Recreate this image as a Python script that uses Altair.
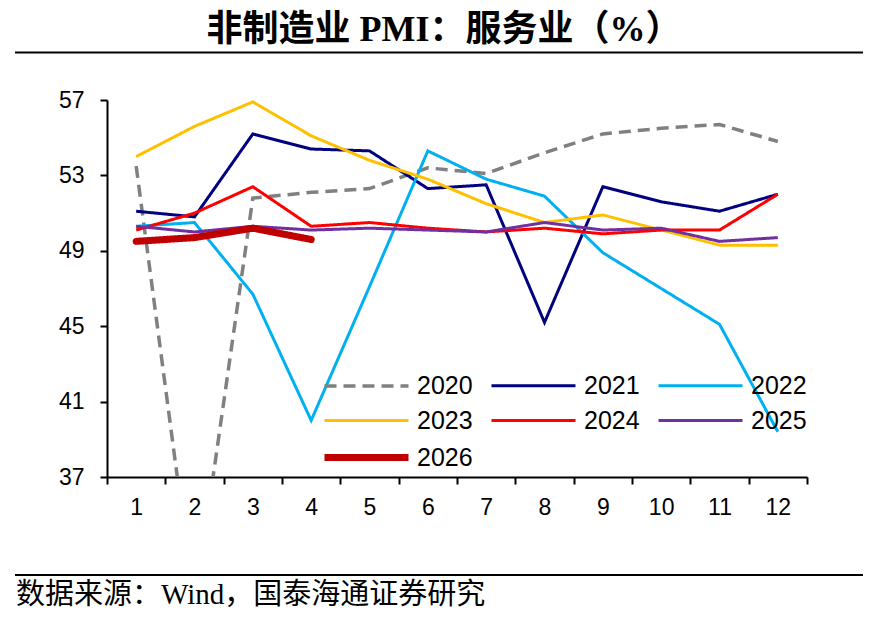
import altair as alt
import pandas as pd

months = list(range(1, 13))
years = ["2020", "2021", "2022", "2023", "2024", "2025", "2026"]
v2020 = [53.5, 30.1, 51.8, 52.1, 52.3, 53.4, 53.1, 54.2, 55.2, 55.5, 55.7, 54.8]
v2021 = [51.1, 50.8, 55.2, 54.4, 54.3, 52.3, 52.5, 45.2, 52.4, 51.6, 51.1, 52.0]
v2022 = [50.3, 50.5, 46.7, 40.0, 47.1, 54.3, 52.8, 51.9, 48.9, 47.0, 45.1, 39.4]
v2023 = [54.0, 55.6, 56.9, 55.1, 53.8, 52.8, 51.5, 50.5, 50.9, 50.1, 49.3, 49.3]
v2024 = [50.1, 51.0, 52.4, 50.3, 50.5, 50.2, 50.0, 50.2, 49.9, 50.1, 50.1, 52.0]
v2025 = [50.3, 50.0, 50.3, 50.1, 50.2, 50.1, 50.0, 50.5, 50.1, 50.2, 49.5, 49.7]
v2026 = [49.5, 49.7, 50.2, 49.6]
series = [v2020, v2021, v2022, v2023, v2024, v2025, v2026]

colors = ["#808080", "#000080", "#00B0F0", "#FFC000", "#FF0000", "#7030A0", "#C00000"]
dashes = [[12, 7], [1, 0], [1, 0], [1, 0], [1, 0], [1, 0], [1, 0]]
widths = [3.5, 3, 3, 3, 3, 3, 7]
y_ticks = [37, 41, 45, 49, 53, 57]

title_text = "非制造业 PMI：服务业（%）"
source_text = "数据来源：Wind，国泰海通证券研究"

rows = []
for yr, vals in zip(years, series):
    for m, v in zip(months, vals):
        rows.append({"month": m, "year": yr, "value": v})
df = pd.DataFrame(rows)

x_enc = alt.X(
    "month:O",
    scale=alt.Scale(type="band", paddingInner=0, paddingOuter=0),
    bandPosition=0.5,
    axis=alt.Axis(
        title=None, labelAngle=0, labelFontSize=23, labelFont="Liberation Sans",
        labelColor="black", tickBand="extent", tickSize=7, tickColor="black",
        tickWidth=2, domainColor="black", domainWidth=2, labelPadding=12, grid=False,
    ),
)
y_enc = alt.Y(
    "value:Q",
    scale=alt.Scale(domain=[37, 57], nice=False, zero=False),
    axis=alt.Axis(
        title=None, values=y_ticks, labelFontSize=23, labelFont="Liberation Sans",
        labelColor="black", tickSize=7, tickColor="black", tickWidth=2,
        domainColor="black", domainWidth=2, labelPadding=16, grid=False,
    ),
)
legend = alt.Legend(
    title=None, orient="none", legendX=242, legendY=270, columns=3,
    direction="horizontal",
    symbolType="M-3,0H3", symbolSize=784, labelFontSize=25,
    labelFont="Liberation Sans", labelColor="black", labelOffset=33,
    columnPadding=12, rowPadding=6, padding=0, labelLimit=300,
)
color_enc = alt.Color("year:N", scale=alt.Scale(domain=years, range=colors), legend=legend)
dash_enc = alt.StrokeDash("year:N", scale=alt.Scale(domain=years, range=dashes), legend=legend)
width_enc = alt.StrokeWidth(
    "year:N", scale=alt.Scale(type="ordinal", domain=years, range=widths), legend=legend
)

base = alt.Chart(df)
lines_main = base.transform_filter(alt.datum.year != "2026").mark_line(clip=True).encode(
    x=x_enc, y=y_enc, color=color_enc, strokeDash=dash_enc, strokeWidth=width_enc,
    detail="year:N",
)
lines_2026 = base.transform_filter(alt.datum.year == "2026").mark_line(
    clip=True, strokeCap="round"
).encode(
    x=x_enc, y=y_enc, color=color_enc, strokeDash=dash_enc, strokeWidth=width_enc,
    detail="year:N",
)

one = pd.DataFrame({"t": [title_text], "s": [source_text]})
top_rule = alt.Chart(one).mark_rule(color="black", strokeWidth=2).encode(
    x=alt.value(-92), x2=alt.value(756), y=alt.value(-47.5)
)
bottom_rule = alt.Chart(one).mark_rule(color="black", strokeWidth=2).encode(
    x=alt.value(-92), x2=alt.value(756), y=alt.value(475)
)
title = alt.Chart(one).mark_text(
    font='Liberation Serif, "Noto Sans CJK SC"', fontSize=36, fontWeight="bold",
    align="center", baseline="middle", color="black",
).encode(text="t:N", x=alt.value(337), y=alt.value(-70))
source = alt.Chart(one).mark_text(
    font='Liberation Serif, "Noto Sans CJK SC"', fontSize=29,
    align="left", baseline="middle", color="black",
).encode(text="s:N", x=alt.value(-91), y=alt.value(495))

chart = alt.layer(top_rule, bottom_rule, title, source, lines_main, lines_2026).properties(
    width=700, height=377,
    autosize=alt.AutoSizeParams(type="none"),
    padding={"left": 99, "top": 92, "right": 72, "bottom": 140},
).configure_view(stroke=None).resolve_scale(color="shared")

chart.save("out.html", embed_options={"renderer": "svg", "actions": False})
